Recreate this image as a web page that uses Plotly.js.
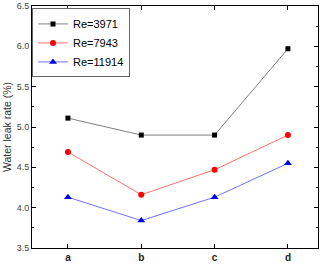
<!DOCTYPE html>
<html>
<head>
<meta charset="utf-8">
<script src="https://cdn.plot.ly/plotly-3.0.1.min.js"></script>
<style>
  html, body { margin: 0; padding: 0; background: #fff; }
  #chart { width: 329px; height: 273px; }
</style>
</head>
<body>
<div id="chart"></div>
<script>
// Sample positions along the x axis
const categories = ['a', 'b', 'c', 'd'];

// Water leak rate (%) for each Reynolds number
const re3971 = [5.11, 4.90, 4.90, 5.97];
const re7943 = [4.69, 4.16, 4.47, 4.90];
const re11914 = [4.13, 3.84, 4.13, 4.55];

const seriesNames = ['Re=3971', 'Re=7943', 'Re=11914'];

const xIdx = categories.map((_, i) => i);

function series(y, name, color, lineColor, symbol, size) {
  return {
    x: xIdx, y: y, name: name, type: 'scatter', mode: 'lines+markers',
    line: { color: lineColor, width: 1 },
    marker: { color: color, symbol: symbol, size: size }
  };
}

const data = [
  series(re3971, seriesNames[0], '#000000', '#808080', 'square', 5),
  series(re7943, seriesNames[1], '#ff0000', '#ff7070', 'circle', 6),
  series(re11914, seriesNames[2], '#0000ee', '#7070ff', 'triangle-up', 7)
];

const fam = 'Liberation Sans, Arial, sans-serif';

const layout = {
  width: 329, height: 273,
  margin: { l: 32, r: 11, t: 6, b: 25 },
  paper_bgcolor: '#fff', plot_bgcolor: '#fff',
  showlegend: true,
  legend: {
    x: 0.0, y: 0.99, xanchor: 'left', yanchor: 'top',
    bordercolor: '#666', borderwidth: 1, bgcolor: '#fff',
    font: { family: fam, size: 11, color: '#000' },
    tracegroupgap: 0, itemwidth: 30
  },
  xaxis: {
    range: [-0.49, 3.41],
    tickmode: 'array', tickvals: xIdx, ticktext: categories,
    ticks: 'inside', ticklen: 4, tickcolor: '#000',
    showline: true, linecolor: '#000', linewidth: 1, mirror: 'ticks',
    showgrid: false, zeroline: false,
    tickfont: { family: fam, size: 10, color: '#222', weight: 'bold' }
  },
  yaxis: {
    range: [3.5, 6.5],
    tickmode: 'array', tickvals: [3.5, 4.0, 4.5, 5.0, 5.5, 6.0, 6.5],
    ticktext: ['3.5', '4.0', '4.5', '5.0', '5.5', '6.0', '6.5'],
    ticks: 'inside', ticklen: 4, tickcolor: '#000',
    minor: { dtick: 0.25, ticks: 'inside', ticklen: 2, tickcolor: '#000' },
    showline: true, linecolor: '#000', linewidth: 1, mirror: 'ticks',
    showgrid: false, zeroline: false,
    tickfont: { family: fam, size: 9, color: '#444' },
    title: { text: 'Water leak rate (%)', standoff: 3,
      font: { family: fam, size: 10.5, color: '#333' } }
  }
};

Plotly.newPlot('chart', data, layout, { displayModeBar: false, staticPlot: true });
</script>
</body>
</html>
